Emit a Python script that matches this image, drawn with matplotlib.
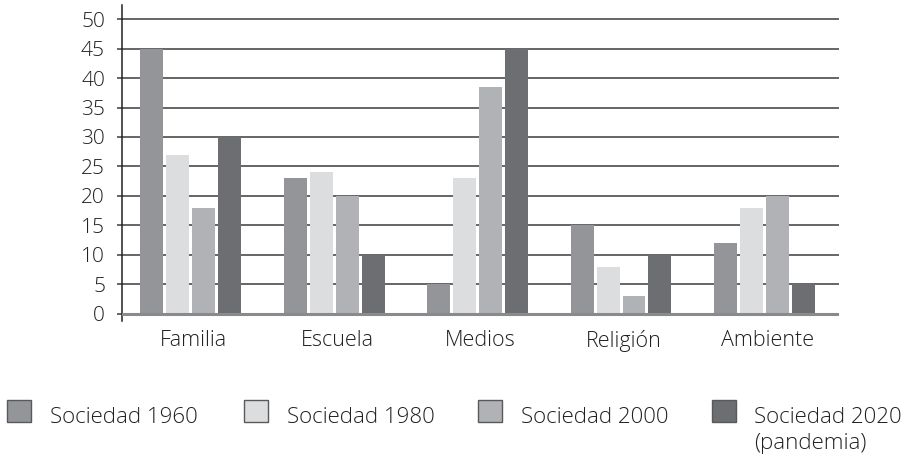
import matplotlib
matplotlib.use("Agg")
import matplotlib.pyplot as plt
from matplotlib.patches import Rectangle
import numpy as np

categories = ["Familia", "Escuela", "Medios", "Religión", "Ambiente"]
series_names = ["Sociedad 1960", "Sociedad 1980", "Sociedad 2000", "Sociedad 2020"]
series_extra = ["", "", "", "(pandemia)"]
s1960 = [45, 23, 5, 15, 12]
s1980 = [27, 24, 23, 8, 18]
s2000 = [18, 20, 38.5, 3, 20]
s2020 = [30, 10, 45, 10, 5]
yticks = [0, 5, 10, 15, 20, 25, 30, 35, 40, 45, 50]

colors = ["#939598", "#dcdddf", "#b1b2b5", "#6d6e71"]
values = [s1960, s1980, s2000, s2020]

plt.rcParams['font.family'] = ['Open Sans', 'DejaVu Sans']
txtc = "#231f20"

W, H = 908, 458
fig = plt.figure(figsize=(W / 100, H / 100), dpi=100)
ax = fig.add_axes([122 / W, (H - 321) / H, (839 - 122) / W, (321 - 5) / H])

x = np.arange(len(categories))
pitch = 0.181
width = 0.16
for k, (vals, c) in enumerate(zip(values, colors)):
    ax.bar(x + (k - 1.5) * pitch - 0.02, vals, width=width, color=c, zorder=3, linewidth=0)

for t in yticks:
    if t == 0:
        ax.axhline(t, color="#8a8a8c", lw=2.2, zorder=4)
    else:
        ax.axhline(t, color="#3c3c3c", lw=1.1, zorder=1)

ax.set_xlim(-0.5, 4.5)
ax.set_ylim(-1.24, 52.4)
ax.set_yticks(yticks)
ax.set_yticklabels([str(t) for t in yticks], fontsize=15, color=txtc, fontweight='light')
ax.tick_params(axis='y', length=3.6, width=1.1, color="#3c3c3c", pad=8.6)
ax.set_xticks(x)
ax.set_xticklabels(categories, fontsize=15.5, color=txtc, fontweight='light')
ax.tick_params(axis='x', length=0, pad=6.5)
for s in ["top", "right", "bottom"]:
    ax.spines[s].set_visible(False)
ax.spines["left"].set_color(txtc)
ax.spines["left"].set_linewidth(1.1)

# legend
sq_x = [7, 244, 478, 712]
txt_x = [50, 287, 521, 754]
for sx, tx, c, name, extra in zip(sq_x, txt_x, colors, series_names, series_extra):
    fig.patches.append(Rectangle((sx / W, (H - 422) / H), 24 / W, 22 / H,
                                 transform=fig.transFigure, facecolor=c,
                                 edgecolor="#58595b", lw=1.0))
    fig.text(tx / W, (H - 423) / H, name, fontsize=16, color=txtc,
             ha="left", va="baseline", fontweight='light')
    if extra:
        fig.text(tx / W, (H - 449) / H, extra, fontsize=16, color=txtc,
                 ha="left", va="baseline", fontweight='light')

fig.savefig("out.png", dpi=100)
